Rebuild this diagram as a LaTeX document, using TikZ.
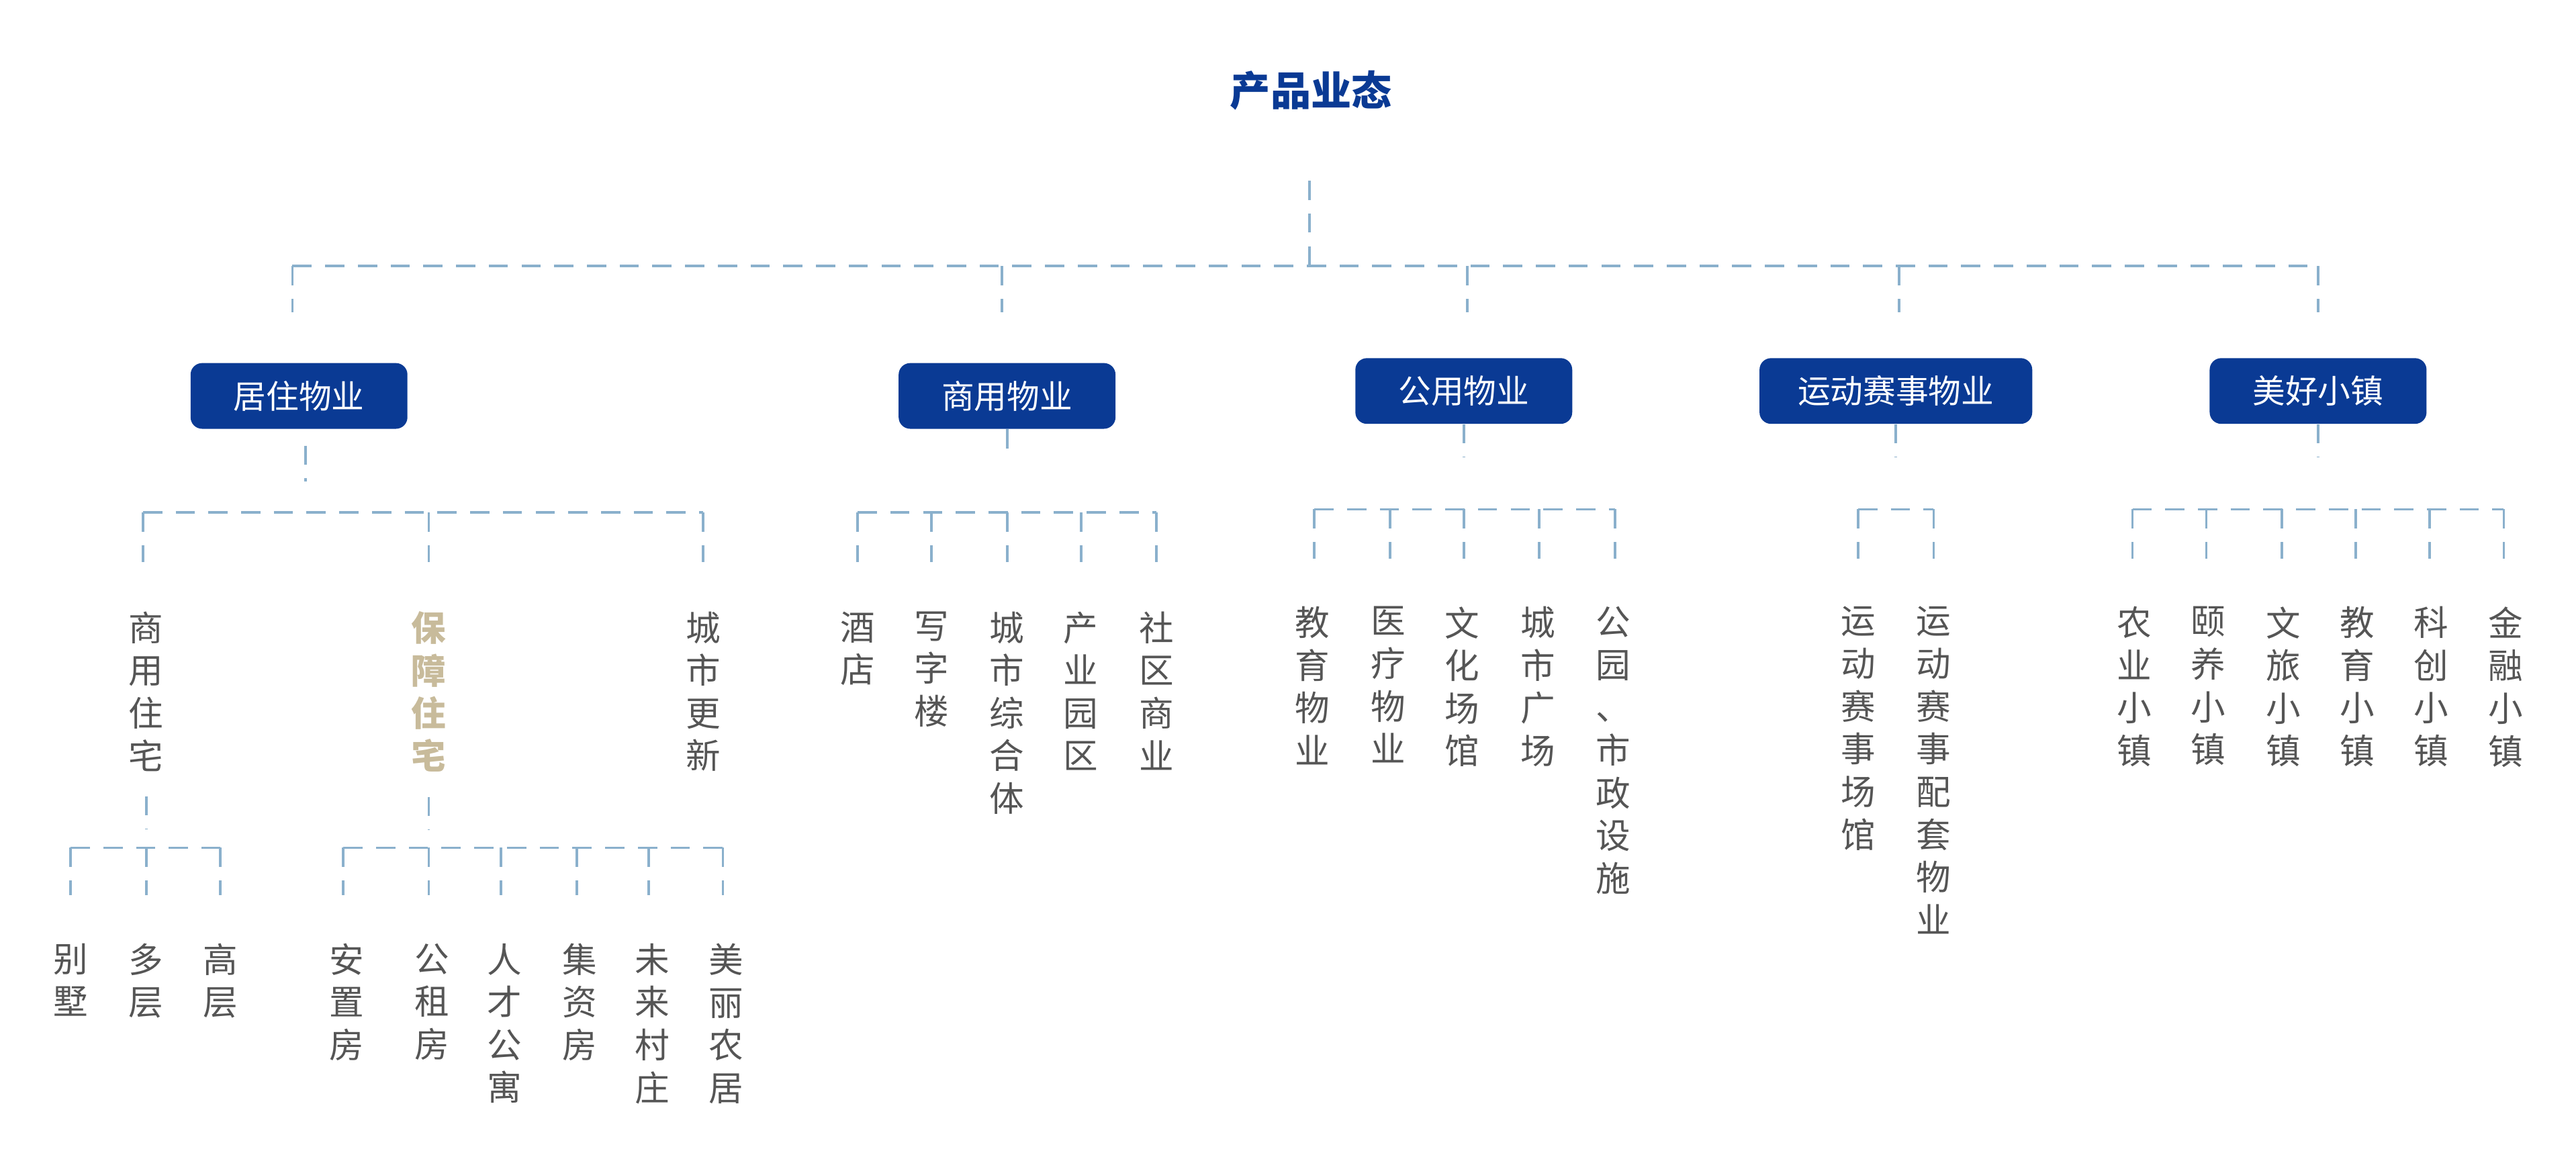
\documentclass[tikz,border=0pt]{standalone}
\usepackage{fontspec}
\setmainfont{Noto Sans CJK SC}
\definecolor{navy}{HTML}{0A3A94}
\definecolor{sand}{HTML}{C8BB9B}
\definecolor{ink}{HTML}{555555}
\definecolor{wire}{HTML}{8AB0CC}
\tikzset{
  link/.style={wire,line width=1.3pt,dash pattern=on 10pt off 7pt},
  cat/.style={fill=navy,text=white,rounded corners=6pt,minimum height=1.2cm,inner sep=0pt,font=\fontsize{17}{20}\selectfont},
  leaf/.style={ink,anchor=north,align=center,inner sep=0pt,font=\fontsize{18}{22.2}\selectfont},
}
\begin{document}
\begin{tikzpicture}[x=0.03cm,y=-0.03cm]
\useasboundingbox (0,0) rectangle (1568,700.6);
% title
\node[navy,font=\bfseries\fontsize{21}{24}\selectfont] (title) at (798,55) {产品业态};
% level one
\node[cat,minimum width=3.96cm] (live) at (182,241) {居住物业};
\node[cat,minimum width=3.96cm] (shop) at (613,241) {商用物业};
\node[cat,minimum width=3.96cm] (pub) at (891,238) {公用物业};
\node[cat,minimum width=4.98cm] (sport) at (1154,238) {运动赛事物业};
\node[cat,minimum width=3.96cm] (town) at (1411,238) {美好小镇};
\coordinate (root) at (797,110);
\draw[link] (root) -- (797,162);
\draw[link] (178,162) -- (1411,162);
\foreach \x in {178,610,893,1156,1411}
  \draw[link] (\x,162) -- (\x,190);
% residential
\node[leaf] (biz) at (89,372) {商\\用\\住\\宅};
\node[leaf,sand,font=\bfseries\fontsize{18}{22.2}\selectfont] (safe) at (261,372) {保\\障\\住\\宅};
\node[leaf] (renew) at (428,372) {城\\市\\更\\新};
\draw[link] (live.south) ++(4,10) -- ++(0,22);
\draw[link] (87,312) -- (428,312);
\foreach \x in {87,261,428}
  \draw[link] (\x,312) -- (\x,342);
\draw[link] (biz.south) ++(0,15) -- ++(0,20);
\draw[link] (43,516) -- (134,516);
\foreach \x/\t [count=\i] in {43/别\\墅,89/多\\层,134/高\\层}{
  \draw[link] (\x,516) -- (\x,545);
  \node[leaf] (villa\i) at (\x,574) {\t};
}
\draw[link] (safe.south) ++(0,15) -- ++(0,20);
\draw[link] (209,516) -- (440,516);
\foreach \x/\t [count=\i] in {209/安\\置\\房,261/公\\租\\房,305/人\\才\\公\\寓,351/集\\资\\房,395/未\\来\\村\\庄,440/美\\丽\\农\\居}{
  \draw[link] (\x,516) -- (\x,545);
  \node[leaf] (home\i) at (\x+2,574) {\t};
}
% commercial
\draw[link] (shop.south) -- ++(0,19);
\draw[link] (522,312) -- (704,312);
\foreach \x/\t [count=\i] in {522/酒\\店,567/写\\字\\楼,613/城\\市\\综\\合\\体,658/产\\业\\园\\区,704/社\\区\\商\\业}{
  \draw[link] (\x,312) -- (\x,342);
  \node[leaf] (shop\i) at (\x,372) {\t};
}
% public
\draw[link] (pub.south) -- ++(0,20);
\draw[link] (800,310) -- (983,310);
\foreach \x/\t [count=\i] in {800/教\\育\\物\\业,846/医\\疗\\物\\业,891/文\\化\\场\\馆,937/城\\市\\广\\场,983/公\\园\\、\\市\\政\\设\\施}{
  \draw[link] (\x,310) -- (\x,340);
  \node[leaf] (pub\i) at (\x-1,369) {\t};
}
% sport
\draw[link] (sport.south) -- ++(0,20);
\draw[link] (1131,310) -- (1177,310);
\foreach \x/\t [count=\i] in {1131/运\\动\\赛\\事\\场\\馆,1177/运\\动\\赛\\事\\配\\套\\物\\业}{
  \draw[link] (\x,310) -- (\x,340);
  \node[leaf] (sport\i) at (\x,369) {\t};
}
% towns
\draw[link] (town.south) -- ++(0,20);
\draw[link] (1298,310) -- (1524,310);
\foreach \x/\t [count=\i] in {1298/农\\业\\小\\镇,1343/颐\\养\\小\\镇,1389/文\\旅\\小\\镇,1434/教\\育\\小\\镇,1479/科\\创\\小\\镇,1524/金\\融\\小\\镇}{
  \draw[link] (\x,310) -- (\x,340);
  \node[leaf] (town\i) at (\x+1,369) {\t};
}
\end{tikzpicture}
\end{document}
